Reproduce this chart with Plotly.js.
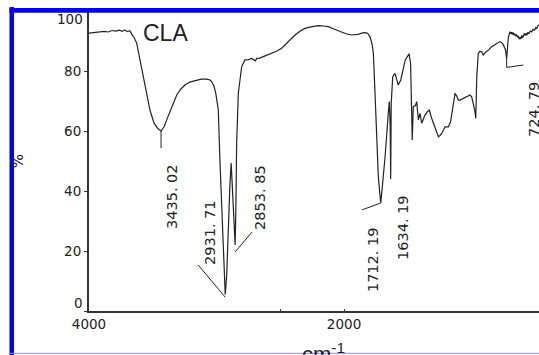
<!DOCTYPE html>
<html>
<head>
<meta charset="utf-8">
<script src="https://cdn.plot.ly/plotly-3.0.1.min.js"></script>
<style>
html,body{margin:0;padding:0;background:#fff;overflow:hidden;}
#chart{width:539px;height:355px;}
</style>
</head>
<body>
<div id="chart"></div>
<script>
// Wavenumber (cm-1) and transmittance (%)
const wavenumber = [
  4000,3960,3920,3880,3850,3820,3790,3760,3740,3720,3700,3680,3665,3645,3626,3600,3574,3547,3522,3490,3460,3435.02,3410,3391,3370,3351,3330,3312,3280,3247,
  3210,3169,3120,3077,3050,3038,3020,3006,2986,2973,2959,2945,2931.71,2920,2908,2895,2885,2875,2868,2860,2853.85,2848,2842,2829,2815,2803,2777,2750,2724,2705,
  2695,2685,2660,2633,2600,2567,2530,2489,2463,2420,2384,2340,2306,2250,2202,2160,2123,2080,2031,1990,1940,1890,1860,1835,1815,1796,1780,1770,1757,1744,
  1731,1720,1712.19,1705,1690,1678,1653,1645,1638,1634.19,1630,1618,1600,1575,1555,1520,1490,1478,1465,1457,1440,1430,1417,1404,1391,1375,1365,1345,1331,1315,
  1300,1280,1260,1245,1234,1208,1182,1165,1155,1140,1129,1115,1103,1090,1064,1038,1012,999,986,975,967,959,947,935,920,908,895,881,862,842,
  820,802,777,760,751,740,733,724.79,716,711,698,690,685,678,672,666,660,653,646,639,632,626,620,613,607,600,594,587,580,573,
  567,558,550,540,528,518,505,497,489,480,471
];
const transmittance = [
  92.6,92.8,93.0,93.2,93.0,93.5,93.3,93.6,93.2,93.7,93.1,93.4,92.3,91.0,89.3,83.7,78.0,72.6,67.0,62.6,60.8,60.0,61.5,63.7,66.0,68.0,70.5,72.0,74.0,75.3,
  76.3,76.8,77.3,77.3,77.0,76.4,75.0,72.6,67.0,50.0,33.7,18.0,5.5,12.0,28.0,42.0,49.3,40.0,33.7,26.0,22.0,35.0,56.0,72.6,78.5,81.4,83.7,83.8,84.2,83.6,
  83.4,84.2,84.3,84.8,85.3,85.9,86.6,87.6,88.7,90.5,92.0,93.4,94.2,94.8,95.1,95.0,94.8,94.0,93.1,92.5,92.0,92.2,92.6,92.8,92.6,91.4,89.0,85.9,72.6,56.0,
  44.8,39.5,36.0,39.0,46.0,51.4,65.9,69.8,62.0,44.0,69.2,78.1,79.2,75.3,77.0,83.7,85.7,82.6,57.0,68.1,68.5,69.8,63.7,65.9,62.6,64.5,65.3,66.5,67.0,64.5,
  62.6,60.0,58.1,58.6,59.2,61.4,61.4,63.0,65.9,69.5,72.6,71.5,70.3,70.3,70.9,71.4,72.0,71.4,69.2,67.0,64.2,78.1,85.9,86.5,86.4,85.3,86.0,86.4,87.2,88.1,
  88.8,89.2,89.8,89.3,88.7,87.5,87.0,84.0,89.0,91.4,93.1,92.3,92.9,92.2,92.8,91.9,92.4,91.6,92.2,91.3,91.5,90.6,91.2,90.7,91.9,91.1,91.6,92.5,91.8,92.6,
  91.9,92.9,92.4,93.3,93.0,93.9,93.6,94.5,94.2,95.1,95.3
];
// Labelled peaks
const peakWavenumber = [3435.02, 2931.71, 2853.85, 1712.19, 1634.19, 724.79];
const peakLabel = ["3435. 02", "2931. 71", "2853. 85", "1712. 19", "1634. 19", "724. 79"];
const peakDepth = [60.0, 5.5, 22.0, 36.0, 44.0, 84.0];
// Axis ticks
const xTickValues = [4000, 2500, 2000];
const xTickText = ["4000", "", "2000"];
const yTickValues = [0, 20, 40, 60, 80, 100];
const yTickText = ["", "20", "40", "60", "80", ""];

const labelFont = {family: "DejaVu Sans, Verdana, sans-serif", size: 14.5, color: "#222"};
const tickFont = {family: "DejaVu Sans, Verdana, sans-serif", size: 13.5, color: "#222"};

// placement of peak labels (data coords of text centre) and leader lines
const labelPos = [[3349, 38], [3051, 26], [2659, 37.7], [1773, 17.3], [1537, 27.7], [510, 67]];
const leaders = [
  [[peakWavenumber[0], peakDepth[0]], [peakWavenumber[0], 54.3]],
  [[peakWavenumber[1], 4.6], [3143, 15.3]],
  [[peakWavenumber[2], 19.7], [2722, 26.3]],
  [[peakWavenumber[3], peakDepth[3]], [1859, 33.7]],
  [[peakWavenumber[5], peakDepth[5]], [peakWavenumber[5], 81.2], [594, 82]]
];

const shapes = [];
leaders.forEach(pts => {
  for (let i = 0; i < pts.length - 1; i++) {
    shapes.push({type: "line", xref: "x", yref: "y", x0: pts[i][0], y0: pts[i][1], x1: pts[i+1][0], y1: pts[i+1][1],
      line: {color: "#222", width: 1}});
  }
});
// blue frame of the original figure
shapes.push({type: "rect", xref: "paper", yref: "paper", x0: -0.1767, x1: -0.1667, y0: -0.16, y1: 1.013,
  fillcolor: "#0000ff", line: {width: 0}, layer: "above"});
shapes.push({type: "rect", xref: "paper", yref: "paper", x0: -0.1767, x1: 1.02, y0: 0.9943, y1: 1.01,
  fillcolor: "#0000ff", line: {width: 0}, layer: "above"});
shapes.push({type: "line", xref: "paper", yref: "paper", x0: -0.1767, x1: 1.02, y0: -0.1411, y1: -0.1411,
  line: {color: "#8c8cff", width: 1}, layer: "above"});

const annotations = peakLabel.map((t, i) => ({
  text: t, xref: "x", yref: "y", x: labelPos[i][0], y: labelPos[i][1], textangle: -90,
  showarrow: false, font: labelFont, xanchor: "center", yanchor: "middle"
}));
annotations.push({text: "CLA", xref: "paper", yref: "paper", x: 0.171, y: 0.927, showarrow: false,
  font: {family: "Liberation Sans, Arial, sans-serif", size: 23, color: "#222"}, xanchor: "center", yanchor: "middle"});
annotations.push({text: "100", xref: "paper", yref: "paper", x: -0.0089, y: 0.973, showarrow: false,
  font: tickFont, xanchor: "right", yanchor: "middle"});
annotations.push({text: "0", xref: "paper", yref: "paper", x: -0.0089, y: 0.028, showarrow: false,
  font: tickFont, xanchor: "right", yanchor: "middle"});
annotations.push({text: "cm<sup>-1</sup>", xref: "paper", yref: "paper", x: 0.52, y: -0.085, showarrow: false,
  font: {family: "Liberation Sans, Arial, sans-serif", size: 22, color: "#222"}, xanchor: "center", yanchor: "top"});
annotations.push({text: "%", xref: "paper", yref: "paper", x: -0.157, y: 0.50, showarrow: false, textangle: -90,
  font: {family: "DejaVu Sans, sans-serif", size: 15, color: "#222"}, xanchor: "center", yanchor: "middle"});

const trace = {
  x: wavenumber, y: transmittance, type: "scatter", mode: "lines",
  line: {color: "#222", width: 1.2}, hoverinfo: "skip"
};

const layout = {
  width: 539, height: 355,
  margin: {l: 89, r: 0, t: 11, b: 44, pad: 0},
  paper_bgcolor: "#fff", plot_bgcolor: "#fff",
  showlegend: false,
  xaxis: {
    range: [4000, 471], showgrid: false, zeroline: false,
    showline: true, linecolor: "#333", linewidth: 2,
    ticks: "inside", ticklen: 2, tickcolor: "#333",
    tickvals: xTickValues, ticktext: xTickText, tickfont: tickFont
  },
  yaxis: {
    range: [0, 100], showgrid: false, zeroline: false,
    showline: true, linecolor: "#333", linewidth: 2,
    ticks: "outside", ticklen: 3, tickcolor: "#333",
    tickvals: yTickValues, ticktext: yTickText, tickfont: tickFont
  },
  shapes: shapes,
  annotations: annotations
};

Plotly.newPlot("chart", [trace], layout, {staticPlot: true, displayModeBar: false});
</script>
</body>
</html>
